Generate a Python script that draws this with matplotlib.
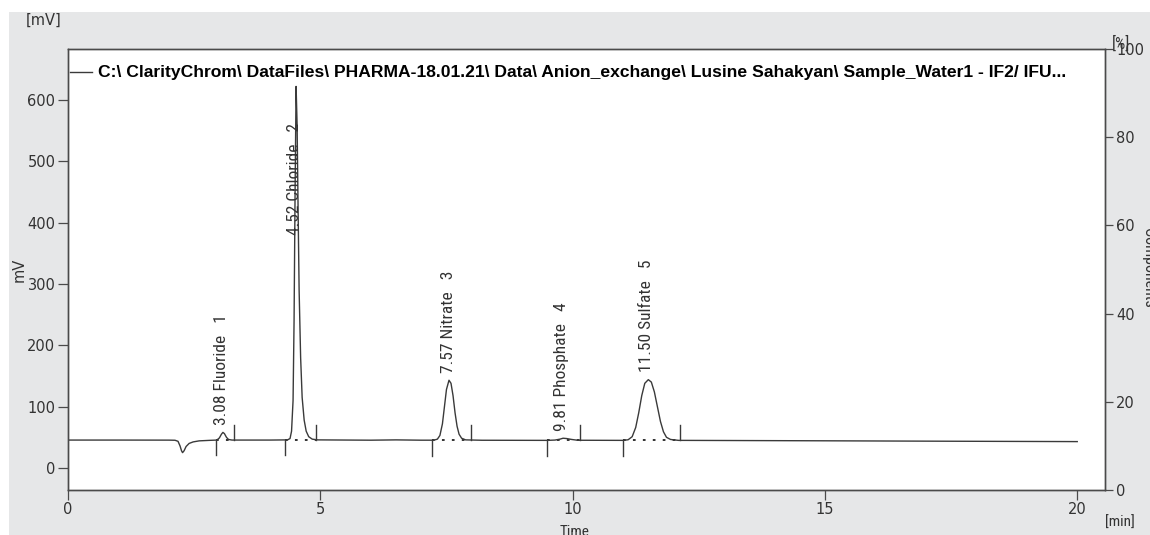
import matplotlib
matplotlib.use("Agg")
import matplotlib.pyplot as plt
from matplotlib import font_manager
from matplotlib.patches import Rectangle

# ---------------- data ----------------
time_min = [0.00, 1.00, 2.00, 2.12, 2.18, 2.22, 2.25, 2.27, 2.30, 2.34, 2.40, 2.48,
            2.60, 2.80, 2.95, 3.00, 3.04, 3.07, 3.10, 3.14, 3.18, 3.25,
            4.00, 4.35, 4.40, 4.43, 4.46, 4.48, 4.50, 4.52, 4.54, 4.56, 4.58, 4.61,
            4.64, 4.68, 4.72, 4.77, 4.84, 4.95,
            6.00, 6.50, 7.00, 7.25, 7.32, 7.37, 7.42, 7.46, 7.50, 7.55, 7.59, 7.63,
            7.67, 7.71, 7.75, 7.80, 7.88, 8.20,
            9.50, 9.65, 9.75, 9.81, 9.88, 9.98, 10.10,
            11.00, 11.10, 11.18, 11.25, 11.31, 11.37, 11.43, 11.50, 11.56, 11.62,
            11.68, 11.74, 11.80, 11.86, 11.94, 12.10,
            13.00, 15.00, 17.50, 20.00]
signal_mv = [45.5, 45.5, 45.4, 45.2, 43.5, 36.0, 28.0, 25.0, 28.0, 35.0, 40.0, 42.5,
             44.2, 45.0, 45.5, 49.0, 55.0, 58.0, 56.0, 50.0, 46.5, 45.5,
             45.5, 45.8, 48.0, 60.0, 110.0, 240.0, 450.0, 622.0, 560.0, 420.0, 290.0, 180.0,
             115.0, 78.0, 60.0, 51.0, 47.0, 45.8,
             45.3, 45.8, 45.3, 45.3, 47.0, 53.0, 72.0, 100.0, 128.0, 143.0, 138.0, 118.0,
             90.0, 68.0, 55.0, 48.5, 45.8, 45.2,
             45.0, 45.5, 47.0, 48.5, 48.0, 46.5, 45.2,
             45.0, 46.0, 51.0, 66.0, 90.0, 118.0, 138.0, 144.0, 140.0, 124.0,
             100.0, 76.0, 59.0, 50.0, 46.5, 45.0,
             44.8, 44.3, 43.6, 43.0]

peak_numbers = [1, 2, 3, 4, 5]
peak_names = ["Fluoride", "Chloride", "Nitrate", "Phosphate", "Sulfate"]
peak_rt = [3.08, 4.52, 7.57, 9.81, 11.50]
peak_apex_mv = [58.0, 622.0, 143.0, 48.5, 144.0]
peak_start = [2.93, 4.30, 7.22, 9.49, 10.99]
peak_end = [3.29, 4.91, 7.98, 10.14, 12.12]
peak_base_mv = [45.5, 45.5, 45.3, 45.0, 45.0]

left_ticks = [0, 100, 200, 300, 400, 500, 600]
right_ticks = [0, 20, 40, 60, 80, 100]
x_ticks = [0, 5, 10, 15, 20]

legend_text = ("C:\\ ClarityChrom\\ DataFiles\\ PHARMA-18.01.21\\ Data\\ Anion_exchange\\ "
               "Lusine Sahakyan\\ Sample_Water1 - IF2/ IFU...")

# ---------------- fonts ----------------
ttf = font_manager.fontManager.ttflist
names = {f.name for f in ttf}


def pick_narrow():
    for n in ["Liberation Sans Narrow", "Roboto Condensed", "Open Sans Condensed"]:
        if n in names:
            return dict(family=n)
    for f in ttf:
        if f.name == "DejaVu Sans" and f.stretch in ("condensed", "semi-condensed", 500, 300):
            return dict(family="DejaVu Sans", stretch="condensed")
    return None


narrow = pick_narrow()
if narrow is None:
    narrow = dict(family="Liberation Sans")
    narrow_scale = 0.88
else:
    narrow_scale = 1.0

W, H = 1150, 535
fig = plt.figure(figsize=(W / 100, H / 100), dpi=100, facecolor="white")
fig.patches.append(Rectangle((9 / W, 0), 1 - 9 / W, 1 - 12 / H, transform=fig.transFigure,
                             facecolor="#e6e7e8", edgecolor="none", zorder=-10))

ax = fig.add_axes([68 / W, 1 - 490 / H, (1105 - 68) / W, (490 - 49) / H])
ax.set_facecolor("white")
ax.set_xlim(0, 20.55)
ax.set_ylim(-35.9, 683.0)

trace_color = "#3a3a3a"
spine_color = "#4a4a4a"
text_color = "#333333"

(line,) = ax.plot(time_min, signal_mv, color=trace_color, lw=1.0, label=legend_text, zorder=3)

# integration marks
mark_len = 25.0
for s, e, b in zip(peak_start, peak_end, peak_base_mv):
    ax.plot([s, e], [b, b], color="#222222", lw=1.3, ls=(0, (1.5, 4)), zorder=2)
    ax.plot([s, s], [b, b - mark_len], color=trace_color, lw=1.0, zorder=3)
    ax.plot([e, e], [b, b + mark_len], color=trace_color, lw=1.0, zorder=3)

# peak labels
for num, name, rt, apex in zip(peak_numbers, peak_names, peak_rt, peak_apex_mv):
    y = min(apex + 12, 380)
    ax.text(rt - 0.03, y, f"{rt:.2f} {name}   {num}", rotation=90, ha="center", va="bottom",
            fontsize=12.5 * narrow_scale, color=text_color, zorder=4, **narrow)

# axes styling
ax.set_xticks(x_ticks)
ax.set_yticks(left_ticks)
for sp in ax.spines.values():
    sp.set_color(spine_color)
    sp.set_linewidth(1.0)
ax.tick_params(direction="out", length=7, width=0.9, color=spine_color,
               labelcolor=text_color, labelsize=10.5, pad=2)

ax2 = ax.twinx()
ax2.set_ylim(0, 100)
ax2.set_yticks(right_ticks)
for sp in ax2.spines.values():
    sp.set_color(spine_color)
    sp.set_linewidth(1.0)
ax2.tick_params(direction="out", length=6, width=0.9, color=spine_color,
                labelcolor=text_color, labelsize=10.5, pad=2)

# legend
leg = ax.legend(handles=[line], loc="center left",
                bbox_to_anchor=(70 / W, 1 - 73 / H), bbox_transform=fig.transFigure,
                frameon=False, borderpad=0, borderaxespad=0, handlelength=1.45,
                handletextpad=0.4,
                prop=dict(family="Liberation Sans", weight="bold", size=11))
fig.canvas.draw()
renderer = fig.canvas.get_renderer()
txt = leg.get_texts()[0]
w = txt.get_window_extent(renderer).width
target = 1095 - 98
txt.set_fontsize(min(12.6, 11 * target / w))

# extra annotations
def ftext(x, y, s, **kw):
    fig.text(x / W, 1 - y / H, s, color=text_color, **kw)


ftext(44, 20, "[mV]", ha="center", va="center", fontsize=10.5)
ftext(19, 270, "mV", ha="center", va="center", rotation=90, fontsize=10.5)
ftext(1121, 44, "[%]", ha="center", va="center", fontsize=11.5 * narrow_scale, **narrow)
ftext(1120, 523, "[min]", ha="center", va="center", fontsize=11 * narrow_scale, **narrow)
ftext(575, 525, "Time", ha="center", va="top", fontsize=11 * narrow_scale, **narrow)
ftext(1149, 268, "Components", ha="center", va="center", rotation=270,
      fontsize=11.5 * narrow_scale, **narrow)

fig.savefig("out.png", dpi=100, facecolor=fig.get_facecolor())
